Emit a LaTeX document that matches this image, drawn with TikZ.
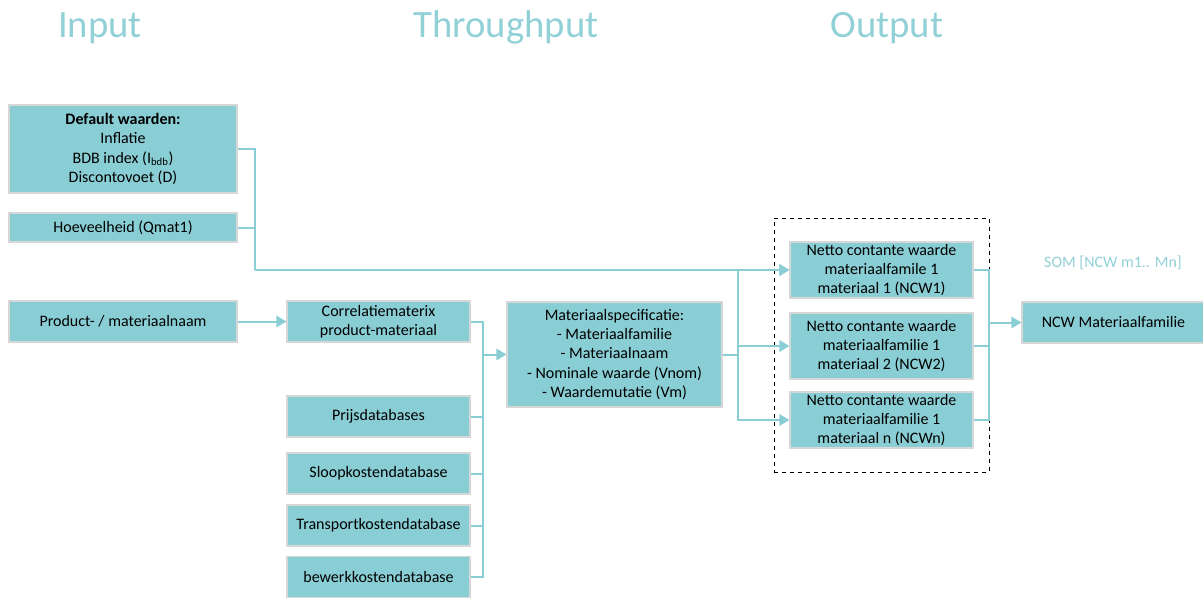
\documentclass[tikz,border=0pt]{standalone}
\usepackage{fontspec}
\setmainfont{Carlito}
\usetikzlibrary{arrows.meta, positioning}

\definecolor{boxteal}{RGB}{138,206,213}
\definecolor{titleteal}{RGB}{146,208,216}
\definecolor{boxline}{RGB}{215,215,215}

\begin{document}
\begin{tikzpicture}[x=0.75pt, y=-0.75pt]
    % Define display style
    \tikzstyle{box}=[draw=boxline, fill=boxteal, line width=0.8pt, align=center, inner sep=0pt, font=\fontsize{12}{14.5}\selectfont]
    \tikzstyle{link}=[boxteal, line width=1.5pt]
    \tikzstyle{arrow}=[link, -{Triangle[length=7.5pt, width=8.5pt]}]
    \tikzstyle{title}=[titleteal, anchor=base, font=\fontsize{29}{31}\selectfont]

    % Define box sizes
    \newcommand\WIN{171pt}
    \newcommand\WMID{137.25pt}
    \newcommand\HROW{30.75pt}

    \useasboundingbox (0,0) rectangle (1203,599);

    % Column titles
    \node[title] (tIn)  at (100,38) {Input};
    \node[title] (tMid) at (506,38) {Throughput};
    \node[title] (tOut) at (887,38) {Output};

    % Input boxes
    \node[box, minimum width=\WIN, minimum height=66pt] (default) at (123,149)
        {\textbf{Default waarden:}\\Inflatie\\BDB index (I\textsubscript{bdb})\\Discontovoet (D)};
    \node[box, minimum width=\WIN, minimum height=21.75pt] (hoev) at (123,227.5) {Hoeveelheid (Qmat1)};
    \node[box, minimum width=\WIN, minimum height=\HROW] (product) at (123,321.5) {Product- / materiaalnaam};

    % Throughput boxes
    \node[box, minimum width=\WMID, minimum height=\HROW] (corr) at (378.5,321.5) {Correlatiematerix\\product-materiaal};
    \node[box, minimum width=\WMID, minimum height=\HROW] (prijs) at (378.5,416.5) {Prijsdatabases};
    \node[box, minimum width=\WMID, minimum height=\HROW] (sloop) at (378.5,473.5) {Sloopkostendatabase};
    \node[box, minimum width=\WMID, minimum height=\HROW] (transport) at (378.5,525.5) {Transportkostendatabase};
    \node[box, minimum width=\WMID, minimum height=\HROW] (bewerk) at (378.5,577) {bewerkkostendatabase};
    \node[box, minimum width=161.25pt, minimum height=78.75pt] (spec) at (614.5,354.5)
        {Materiaalspecificatie:\\- Materiaalfamilie\\- Materiaalnaam\\- Nominale waarde (Vnom)\\- Waardemutatie (Vm)};

    % Output boxes
    \node[draw, dashed, line width=0.6pt, minimum width=161.25pt, minimum height=190.5pt] (group) at (881.5,345) {};
    \node[box, minimum width=\WMID, minimum height=42pt] (ncw1) at (881.5,270)
        {Netto contante waarde\\materiaalfamile 1\\materiaal 1 (NCW1)};
    \node[box, minimum width=\WMID, minimum height=49.5pt] (ncw2) at (881.5,346)
        {Netto contante waarde\\materiaalfamilie 1\\materiaal 2 (NCW2)};
    \node[box, minimum width=\WMID, minimum height=42pt] (ncwn) at (881.5,420)
        {Netto contante waarde\\materiaalfamilie 1\\materiaal n (NCWn)};
    \node[box, minimum width=\WMID, minimum height=\HROW] (fam) at (1113.5,322.5) {NCW Materiaalfamilie};
    \node[titleteal, font=\fontsize{12}{14}\selectfont] (som) at (1113,263) {SOM [NCW m1.. Mn]};

    % Create shortcuts for the bus points
    \coordinate (busIn)  at (255,270);
    \coordinate (busDb)  at (483,354.5);
    \coordinate (busNcw) at (738,354.5);
    \coordinate (busOut) at (989,322.5);

    % Draw the input lines
    \draw[link] (default.east) -| (busIn);
    \draw[link] (hoev.east) -- (hoev.east -| busIn);
    \draw[arrow] (busIn) -- (ncw1.west);
    \draw[arrow] (product) -- (corr);

    % Draw the database lines
    \foreach \dbName in {corr, prijs, sloop, transport, bewerk}
        \draw[link] (\dbName.east) -| (busDb);
    \draw[arrow] (busDb) -- (spec.west);

    % Draw the output lines
    \draw[link] (spec.east) -- (busNcw);
    \foreach \ncwName in {ncw1, ncw2, ncwn}
        \draw[arrow] (busNcw) |- (\ncwName.west);

    \foreach \ncwName in {ncw1, ncw2, ncwn}
        \draw[link] (\ncwName.east) -| (busOut);
    \draw[arrow] (busOut) -- (fam.west);
\end{tikzpicture}
\end{document}
